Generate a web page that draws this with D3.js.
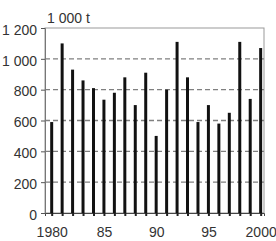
<!DOCTYPE html>
<html>
<head>
<meta charset="utf-8">
<script src="https://cdn.jsdelivr.net/npm/d3@7"></script>
<style>
  body { margin: 0; background: #fff; }
  svg text { font-family: "Liberation Sans", Arial, sans-serif; fill: #333; }
</style>
</head>
<body>
<div id="viz-wrapper"></div>
<script>
let width = 276,
    height = 241;

let years = d3.range(1980, 2001);
let values = [590, 1100, 930, 860, 810, 735, 780, 880, 700, 910, 500,
              800, 1110, 880, 590, 700, 580, 650, 1110, 740, 1070];
let yTicks = [0, 200, 400, 600, 800, 1000, 1200];
let xTicks = [1980, 1985, 1990, 1995, 2000];
let xTickLabels = ['1980', '85', '90', '95', '2000'];
let unitLabel = '1 000 t';

let plotLeft = 45, plotRight = 264, plotTop = 28, plotBottom = 213;

let xScale = d3.scaleLinear().domain([1979.36, 2000.32]).range([plotLeft, plotRight]);
let yScale = d3.scaleLinear().domain([0, 1200]).range([plotBottom, plotTop]);

let svg = d3.select('#viz-wrapper')
  .append('svg')
  .attr('width', width)
  .attr('height', height);

// frame
svg.append('rect')
  .attr('x', plotLeft).attr('y', plotTop)
  .attr('width', plotRight - plotLeft).attr('height', plotBottom - plotTop)
  .style('fill', 'none')
  .style('stroke', '#999')
  .style('stroke-width', 1);

// dashed gridlines
svg.append('g')
  .selectAll('line')
  .data(yTicks.filter(function(d) { return d > 0 && d < 1200; }))
  .enter()
  .append('line')
  .attr('x1', plotLeft).attr('x2', plotRight)
  .attr('y1', function(d) { return yScale(d); })
  .attr('y2', function(d) { return yScale(d); })
  .style('stroke', '#808080')
  .style('stroke-width', 1.3)
  .style('stroke-dasharray', '5,3');

// bars
svg.append('g')
  .selectAll('line')
  .data(values)
  .enter()
  .append('line')
  .attr('x1', function(d, i) { return xScale(years[i]); })
  .attr('x2', function(d, i) { return xScale(years[i]); })
  .attr('y1', yScale(0))
  .attr('y2', function(d) { return yScale(d); })
  .style('stroke', '#111')
  .style('stroke-width', 3);

// y axis
let yAxis = d3.axisLeft(yScale)
  .tickValues(yTicks)
  .tickSize(4)
  .tickPadding(4)
  .tickFormat(function(d) { return d3.format(',')(d).replace(',', ' '); });

let gy = svg.append('g')
  .attr('transform', 'translate(' + plotLeft + ',0)')
  .call(yAxis);
gy.select('.domain').style('stroke', '#777');
gy.selectAll('.tick line').style('stroke', '#555');
gy.selectAll('text')
  .attr('dy', '0.45em')
  .style('font-size', '14px')
  .style('fill', '#333');

// x axis: a tick for every year, labels at five-year steps
let xAxis = d3.axisBottom(xScale)
  .tickValues(years)
  .tickSize(3)
  .tickPadding(11)
  .tickFormat(function(d) {
    let k = xTicks.indexOf(d);
    return k >= 0 ? xTickLabels[k] : '';
  });

let gx = svg.append('g')
  .attr('transform', 'translate(0,' + plotBottom + ')')
  .call(xAxis);
gx.select('.domain').style('stroke', '#444');
gx.selectAll('.tick line').style('stroke', '#222').style('stroke-width', 2);
gx.selectAll('text')
  .style('font-size', '14px')
  .style('fill', '#333');

// unit label
svg.append('text')
  .attr('x', plotLeft + 2)
  .attr('y', 23)
  .style('font-size', '14px')
  .text(unitLabel);
</script>
</body>
</html>
